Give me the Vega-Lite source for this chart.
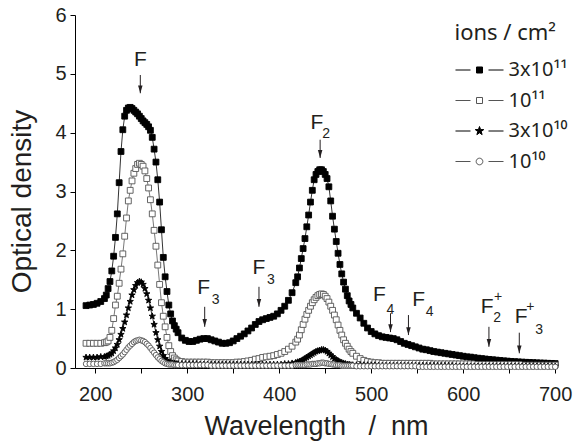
{
  "$schema": "https://vega.github.io/schema/vega-lite/v6.json",
  "width": 482,
  "height": 353,
  "autosize": {"type": "none"},
  "padding": {"left": 75, "top": 15, "right": 16, "bottom": 73},
  "config": {
    "view": {"stroke": null},
    "font": "Liberation Sans",
    "axis": {"grid": false, "domainColor": "#000", "tickColor": "#000", "labelColor": "#231f20", "titleColor": "#231f20", "labelFont": "Liberation Sans", "titleFont": "Liberation Sans", "titleFontWeight": "normal", "labelFontSize": 20, "titleFontSize": 27, "tickSize": 5, "domainWidth": 1, "tickWidth": 1}
  },
  "datasets": {
    "spec": [
      {"x":190,"a":1.06,"b":0.42,"c":0.18,"d":0.07},
      {"x":194,"a":1.07,"b":0.42,"c":0.18,"d":0.07},
      {"x":198,"a":1.08,"b":0.42,"c":0.18,"d":0.07},
      {"x":202,"a":1.10,"b":0.42,"c":0.18,"d":0.07},
      {"x":206,"a":1.13,"b":0.42,"c":0.19,"d":0.07},
      {"x":210,"a":1.18,"b":0.43,"c":0.19,"d":0.08},
      {"x":212,"a":1.24,"b":0.44,"c":0.20,"d":0.08},
      {"x":214,"a":1.35,"b":0.46,"c":0.21,"d":0.08},
      {"x":216,"a":1.47,"b":0.52,"c":0.23,"d":0.08},
      {"x":218,"a":1.65,"b":0.64,"c":0.25,"d":0.09},
      {"x":220,"a":1.90,"b":0.84,"c":0.29,"d":0.10},
      {"x":222,"a":2.22,"b":1.07,"c":0.34,"d":0.12},
      {"x":224,"a":2.62,"b":1.22,"c":0.40,"d":0.14},
      {"x":226,"a":3.15,"b":1.44,"c":0.48,"d":0.17},
      {"x":228,"a":3.68,"b":1.68,"c":0.57,"d":0.20},
      {"x":230,"a":4.05,"b":1.94,"c":0.67,"d":0.23},
      {"x":232,"a":4.28,"b":2.24,"c":0.78,"d":0.27},
      {"x":234,"a":4.38,"b":2.55,"c":0.90,"d":0.31},
      {"x":236,"a":4.42,"b":2.84,"c":1.02,"d":0.35},
      {"x":238,"a":4.43,"b":3.02,"c":1.13,"d":0.38},
      {"x":240,"a":4.41,"b":3.18,"c":1.24,"d":0.41},
      {"x":242,"a":4.38,"b":3.31,"c":1.33,"d":0.44},
      {"x":244,"a":4.35,"b":3.39,"c":1.40,"d":0.46},
      {"x":246,"a":4.32,"b":3.46,"c":1.45,"d":0.47},
      {"x":248,"a":4.28,"b":3.48,"c":1.47,"d":0.48},
      {"x":250,"a":4.24,"b":3.46,"c":1.46,"d":0.47},
      {"x":252,"a":4.20,"b":3.43,"c":1.42,"d":0.46},
      {"x":254,"a":4.17,"b":3.35,"c":1.35,"d":0.44},
      {"x":256,"a":4.14,"b":3.22,"c":1.26,"d":0.41},
      {"x":258,"a":4.10,"b":3.06,"c":1.15,"d":0.38},
      {"x":260,"a":4.04,"b":2.86,"c":1.02,"d":0.34},
      {"x":262,"a":3.92,"b":2.62,"c":0.88,"d":0.30},
      {"x":264,"a":3.72,"b":2.34,"c":0.74,"d":0.26},
      {"x":266,"a":3.50,"b":2.07,"c":0.60,"d":0.22},
      {"x":268,"a":3.20,"b":1.75,"c":0.48,"d":0.18},
      {"x":270,"a":2.82,"b":1.42,"c":0.37,"d":0.15},
      {"x":272,"a":2.35,"b":1.11,"c":0.28,"d":0.12},
      {"x":274,"a":1.88,"b":0.88,"c":0.21,"d":0.10},
      {"x":276,"a":1.55,"b":0.70,"c":0.16,"d":0.08},
      {"x":278,"a":1.30,"b":0.52,"c":0.12,"d":0.07},
      {"x":280,"a":1.07,"b":0.38,"c":0.10,"d":0.06},
      {"x":282,"a":0.92,"b":0.28,"c":0.09,"d":0.06},
      {"x":284,"a":0.80,"b":0.21,"c":0.08,"d":0.06},
      {"x":286,"a":0.72,"b":0.17,"c":0.08,"d":0.05},
      {"x":288,"a":0.66,"b":0.14,"c":0.07,"d":0.05},
      {"x":290,"a":0.60,"b":0.12,"c":0.07,"d":0.05},
      {"x":294,"a":0.51,"b":0.11,"c":0.07,"d":0.05},
      {"x":298,"a":0.47,"b":0.10,"c":0.07,"d":0.05},
      {"x":302,"a":0.45,"b":0.10,"c":0.07,"d":0.05},
      {"x":306,"a":0.45,"b":0.10,"c":0.07,"d":0.05},
      {"x":310,"a":0.47,"b":0.10,"c":0.07,"d":0.05},
      {"x":314,"a":0.49,"b":0.10,"c":0.06,"d":0.05},
      {"x":318,"a":0.50,"b":0.10,"c":0.06,"d":0.05},
      {"x":322,"a":0.50,"b":0.10,"c":0.06,"d":0.05},
      {"x":326,"a":0.48,"b":0.09,"c":0.06,"d":0.04},
      {"x":330,"a":0.46,"b":0.09,"c":0.06,"d":0.04},
      {"x":334,"a":0.44,"b":0.09,"c":0.06,"d":0.04},
      {"x":338,"a":0.42,"b":0.09,"c":0.06,"d":0.04},
      {"x":342,"a":0.42,"b":0.09,"c":0.06,"d":0.04},
      {"x":346,"a":0.43,"b":0.09,"c":0.06,"d":0.04},
      {"x":350,"a":0.46,"b":0.09,"c":0.06,"d":0.04},
      {"x":354,"a":0.50,"b":0.10,"c":0.06,"d":0.04},
      {"x":358,"a":0.54,"b":0.10,"c":0.06,"d":0.04},
      {"x":362,"a":0.58,"b":0.11,"c":0.06,"d":0.04},
      {"x":366,"a":0.63,"b":0.12,"c":0.06,"d":0.04},
      {"x":370,"a":0.68,"b":0.13,"c":0.06,"d":0.04},
      {"x":374,"a":0.74,"b":0.15,"c":0.06,"d":0.04},
      {"x":378,"a":0.79,"b":0.16,"c":0.06,"d":0.04},
      {"x":382,"a":0.82,"b":0.18,"c":0.06,"d":0.04},
      {"x":386,"a":0.84,"b":0.19,"c":0.06,"d":0.04},
      {"x":390,"a":0.86,"b":0.20,"c":0.06,"d":0.04},
      {"x":394,"a":0.88,"b":0.21,"c":0.06,"d":0.04},
      {"x":398,"a":0.92,"b":0.23,"c":0.06,"d":0.04},
      {"x":402,"a":0.98,"b":0.25,"c":0.06,"d":0.04},
      {"x":406,"a":1.05,"b":0.28,"c":0.07,"d":0.04},
      {"x":410,"a":1.15,"b":0.32,"c":0.07,"d":0.04},
      {"x":414,"a":1.28,"b":0.37,"c":0.08,"d":0.04},
      {"x":418,"a":1.45,"b":0.44,"c":0.09,"d":0.05},
      {"x":420,"a":1.55,"b":0.49,"c":0.10,"d":0.05},
      {"x":422,"a":1.70,"b":0.56,"c":0.11,"d":0.05},
      {"x":424,"a":1.86,"b":0.65,"c":0.12,"d":0.05},
      {"x":426,"a":2.03,"b":0.74,"c":0.14,"d":0.05},
      {"x":428,"a":2.20,"b":0.83,"c":0.16,"d":0.05},
      {"x":430,"a":2.40,"b":0.91,"c":0.18,"d":0.06},
      {"x":432,"a":2.60,"b":0.98,"c":0.20,"d":0.06},
      {"x":434,"a":2.82,"b":1.05,"c":0.22,"d":0.06},
      {"x":436,"a":3.02,"b":1.11,"c":0.24,"d":0.07},
      {"x":438,"a":3.20,"b":1.16,"c":0.26,"d":0.07},
      {"x":440,"a":3.29,"b":1.20,"c":0.28,"d":0.07},
      {"x":442,"a":3.34,"b":1.23,"c":0.29,"d":0.08},
      {"x":444,"a":3.37,"b":1.25,"c":0.30,"d":0.08},
      {"x":446,"a":3.37,"b":1.26,"c":0.31,"d":0.09},
      {"x":448,"a":3.34,"b":1.25,"c":0.31,"d":0.09},
      {"x":450,"a":3.29,"b":1.22,"c":0.30,"d":0.08},
      {"x":452,"a":3.22,"b":1.18,"c":0.28,"d":0.08},
      {"x":454,"a":3.08,"b":1.12,"c":0.25,"d":0.07},
      {"x":456,"a":2.84,"b":1.05,"c":0.22,"d":0.07},
      {"x":458,"a":2.58,"b":0.98,"c":0.19,"d":0.06},
      {"x":460,"a":2.36,"b":0.90,"c":0.16,"d":0.06},
      {"x":462,"a":2.15,"b":0.82,"c":0.14,"d":0.05},
      {"x":464,"a":1.95,"b":0.73,"c":0.12,"d":0.05},
      {"x":466,"a":1.76,"b":0.64,"c":0.10,"d":0.05},
      {"x":468,"a":1.60,"b":0.56,"c":0.09,"d":0.04},
      {"x":470,"a":1.46,"b":0.48,"c":0.08,"d":0.04},
      {"x":472,"a":1.34,"b":0.42,"c":0.07,"d":0.04},
      {"x":474,"a":1.23,"b":0.37,"c":0.06,"d":0.04},
      {"x":476,"a":1.14,"b":0.32,"c":0.06,"d":0.04},
      {"x":478,"a":1.08,"b":0.28,"c":0.05,"d":0.04},
      {"x":480,"a":1.02,"b":0.25,"c":0.05,"d":0.04},
      {"x":484,"a":0.93,"b":0.20,"c":0.05,"d":0.03},
      {"x":488,"a":0.85,"b":0.16,"c":0.05,"d":0.03},
      {"x":492,"a":0.76,"b":0.13,"c":0.05,"d":0.03},
      {"x":496,"a":0.68,"b":0.11,"c":0.05,"d":0.03},
      {"x":500,"a":0.62,"b":0.10,"c":0.05,"d":0.03},
      {"x":504,"a":0.58,"b":0.09,"c":0.05,"d":0.03},
      {"x":508,"a":0.55,"b":0.09,"c":0.04,"d":0.03},
      {"x":512,"a":0.53,"b":0.08,"c":0.04,"d":0.03},
      {"x":516,"a":0.52,"b":0.08,"c":0.04,"d":0.03},
      {"x":520,"a":0.51,"b":0.08,"c":0.04,"d":0.03},
      {"x":524,"a":0.50,"b":0.08,"c":0.04,"d":0.03},
      {"x":528,"a":0.48,"b":0.08,"c":0.04,"d":0.03},
      {"x":532,"a":0.45,"b":0.08,"c":0.04,"d":0.03},
      {"x":536,"a":0.42,"b":0.08,"c":0.04,"d":0.03},
      {"x":540,"a":0.40,"b":0.08,"c":0.04,"d":0.03},
      {"x":544,"a":0.38,"b":0.08,"c":0.04,"d":0.03},
      {"x":548,"a":0.36,"b":0.08,"c":0.04,"d":0.03},
      {"x":552,"a":0.34,"b":0.08,"c":0.04,"d":0.02},
      {"x":556,"a":0.32,"b":0.08,"c":0.04,"d":0.02},
      {"x":560,"a":0.31,"b":0.08,"c":0.04,"d":0.02},
      {"x":564,"a":0.295,"b":0.08,"c":0.04,"d":0.02},
      {"x":568,"a":0.28,"b":0.07,"c":0.04,"d":0.02},
      {"x":572,"a":0.27,"b":0.07,"c":0.04,"d":0.02},
      {"x":576,"a":0.26,"b":0.07,"c":0.04,"d":0.02},
      {"x":580,"a":0.25,"b":0.07,"c":0.04,"d":0.02},
      {"x":584,"a":0.24,"b":0.07,"c":0.04,"d":0.02},
      {"x":588,"a":0.23,"b":0.07,"c":0.04,"d":0.02},
      {"x":592,"a":0.22,"b":0.07,"c":0.03,"d":0.02},
      {"x":596,"a":0.21,"b":0.07,"c":0.03,"d":0.02},
      {"x":600,"a":0.20,"b":0.07,"c":0.03,"d":0.02},
      {"x":604,"a":0.19,"b":0.07,"c":0.03,"d":0.02},
      {"x":608,"a":0.185,"b":0.07,"c":0.03,"d":0.02},
      {"x":612,"a":0.175,"b":0.07,"c":0.03,"d":0.02},
      {"x":616,"a":0.167,"b":0.06,"c":0.03,"d":0.02},
      {"x":620,"a":0.16,"b":0.06,"c":0.03,"d":0.02},
      {"x":624,"a":0.153,"b":0.06,"c":0.03,"d":0.02},
      {"x":628,"a":0.146,"b":0.06,"c":0.03,"d":0.02},
      {"x":632,"a":0.14,"b":0.06,"c":0.03,"d":0.02},
      {"x":636,"a":0.134,"b":0.06,"c":0.03,"d":0.02},
      {"x":640,"a":0.128,"b":0.06,"c":0.03,"d":0.02},
      {"x":644,"a":0.122,"b":0.06,"c":0.03,"d":0.02},
      {"x":648,"a":0.117,"b":0.06,"c":0.03,"d":0.02},
      {"x":652,"a":0.112,"b":0.06,"c":0.03,"d":0.02},
      {"x":656,"a":0.108,"b":0.06,"c":0.03,"d":0.02},
      {"x":660,"a":0.104,"b":0.06,"c":0.03,"d":0.02},
      {"x":664,"a":0.10,"b":0.06,"c":0.03,"d":0.02},
      {"x":668,"a":0.097,"b":0.05,"c":0.03,"d":0.02},
      {"x":672,"a":0.094,"b":0.05,"c":0.03,"d":0.02},
      {"x":676,"a":0.091,"b":0.05,"c":0.03,"d":0.02},
      {"x":680,"a":0.088,"b":0.05,"c":0.03,"d":0.02},
      {"x":684,"a":0.085,"b":0.05,"c":0.03,"d":0.02},
      {"x":688,"a":0.083,"b":0.05,"c":0.03,"d":0.02},
      {"x":692,"a":0.08,"b":0.05,"c":0.03,"d":0.02},
      {"x":696,"a":0.078,"b":0.05,"c":0.03,"d":0.02},
      {"x":700,"a":0.076,"b":0.05,"c":0.03,"d":0.02}
    ],
    "series": [{"s":"a"},{"s":"b"},{"s":"c"},{"s":"d"}],
    "arr": [
      {"x":249,"y1":4.98,"y2":4.67},
      {"x":444.5,"y1":3.88,"y2":3.57},
      {"x":319,"y1":1.04,"y2":0.70},
      {"x":378,"y1":1.38,"y2":1.04},
      {"x":521,"y1":0.93,"y2":0.61},
      {"x":540.5,"y1":0.90,"y2":0.56},
      {"x":628,"y1":0.70,"y2":0.36},
      {"x":661,"y1":0.60,"y2":0.25}
    ],
    "lab": [
      {"x":249,"y":5.24,"t":"F","k":"big"},
      {"x":441,"y":4.17,"t":"F","k":"big"},
      {"x":451,"y":3.97,"t":"2","k":"small"},
      {"x":318,"y":1.36,"t":"F","k":"big"},
      {"x":331,"y":1.16,"t":"3","k":"small"},
      {"x":378,"y":1.7,"t":"F","k":"big"},
      {"x":391,"y":1.5,"t":"3","k":"small"},
      {"x":509,"y":1.24,"t":"F","k":"big"},
      {"x":521,"y":0.99,"t":"4","k":"small"},
      {"x":551.5,"y":1.16,"t":"F","k":"big"},
      {"x":563.5,"y":0.95,"t":"4","k":"small"},
      {"x":626,"y":1.04,"t":"F","k":"big"},
      {"x":638,"y":1.21,"t":"+","k":"small"},
      {"x":637,"y":0.85,"t":"2","k":"small"},
      {"x":663,"y":0.87,"t":"F","k":"big"},
      {"x":673,"y":1.04,"t":"+","k":"small"},
      {"x":682.5,"y":0.65,"t":"3","k":"small"}
    ]
  },
  "layer": [
    {
      "data": {"name": "spec"},
      "transform": [{"fold": ["a","b","c","d"], "as": ["s","v"]}],
      "mark": {"type": "line", "strokeWidth": 0.8},
      "encoding": {
        "x": {"field": "x", "type": "quantitative", "scale": {"domain": [178, 702], "nice": false, "zero": false},
          "axis": {"values": [200,250,300,350,400,450,500,550,600,650,700], "labelExpr": "datum.value % 100 === 0 ? format(datum.value, 'd') : ''", "title": "Wavelength\u00a0\u00a0\u00a0/\u00a0\u00a0nm", "labelPadding": 11, "titlePadding": 9, "labelFlush": false}},
        "y": {"field": "v", "type": "quantitative", "scale": {"domain": [0, 6], "nice": false},
          "axis": {"values": [0,0.5,1,1.5,2,2.5,3,3.5,4,4.5,5,5.5,6], "labelExpr": "datum.value % 1 === 0 ? format(datum.value, 'd') : ''", "title": "Optical density", "titleFontSize": 28, "labelPadding": 4, "titlePadding": 18, "titleY": 186}},
        "stroke": {"field": "s", "type": "nominal", "scale": {"domain": ["a","b","c","d"], "range": ["#000000","#555555","#000000","#555555"]}},
        "detail": {"field": "s"}
      }
    },
    {
      "data": {"name": "spec"},
      "transform": [{"fold": ["a","b","c","d"], "as": ["s","v"]}, {"filter": {"field": "s", "oneOf": ["a","b"]}}],
      "mark": {"type": "point", "filled": true, "opacity": 1, "strokeWidth": 0.9, "size": 34, "shape": "square"},
      "encoding": {
        "x": {"field": "x", "type": "quantitative"},
        "y": {"field": "v", "type": "quantitative"},
        "stroke": {"field": "s", "type": "nominal"},
        "fill": {"field": "s", "type": "nominal", "scale": {"domain": ["a","b","c","d"], "range": ["#000000","#ffffff","#000000","#ffffff"]}}
      }
    },
    {
      "data": {"name": "spec"},
      "transform": [{"fold": ["a","b","c","d"], "as": ["s","v"]}, {"filter": {"field": "s", "equal": "c"}}],
      "mark": {"type": "point", "filled": true, "opacity": 1, "strokeWidth": 0.9, "size": 34, "shape": "M0,-1.15L0.27,-0.373L1.094,-0.355L0.437,0.143L0.676,0.93L0,0.46L-0.676,0.93L-0.437,0.143L-1.094,-0.355L-0.27,-0.373Z"},
      "encoding": {
        "x": {"field": "x", "type": "quantitative"},
        "y": {"field": "v", "type": "quantitative"},
        "stroke": {"field": "s", "type": "nominal"},
        "fill": {"field": "s", "type": "nominal"}
      }
    },
    {
      "data": {"name": "spec"},
      "transform": [{"fold": ["a","b","c","d"], "as": ["s","v"]}, {"filter": {"field": "s", "equal": "d"}}],
      "mark": {"type": "point", "filled": true, "opacity": 1, "strokeWidth": 0.9, "size": 30, "shape": "circle"},
      "encoding": {
        "x": {"field": "x", "type": "quantitative"},
        "y": {"field": "v", "type": "quantitative"},
        "stroke": {"field": "s", "type": "nominal"},
        "fill": {"field": "s", "type": "nominal"}
      }
    },
    {
      "data": {"name": "series"},
      "mark": {"type": "point", "filled": true, "opacity": 0},
      "encoding": {
        "stroke": {"field": "s", "type": "nominal"},
        "shape": {"field": "s", "type": "nominal", "scale": {"domain": ["a","b","c","d"], "range": [
          "M-0.966,0H0.07M1.31,0H2.345M0.483,-0.207H0.897V0.207H0.483Z",
          "M-0.966,0H0.07M1.31,0H2.345M0.483,-0.207H0.897V0.207H0.483Z",
          "M-0.966,0H0.07M1.31,0H2.345M0.69,-0.31L0.763,-0.1L0.985,-0.096L0.808,0.038L0.872,0.251L0.69,0.124L0.508,0.251L0.572,0.038L0.395,-0.096L0.617,-0.1Z",
          "M-0.966,0H0.07M1.31,0H2.345M0.92,0A0.23,0.23 0 1,1 0.46,0A0.23,0.23 0 1,1 0.92,0Z"]}},
        "fill": {"field": "s", "type": "nominal",
          "legend": {
            "title": "ions / cm²",
            "orient": "none", "legendX": 379.5, "legendY": 8, "padding": 0,
            "titleFontSize": 22, "titleFontWeight": "normal", "titleColor": "#231f20", "titleFont": "Noto Sans", "titlePadding": 10,
            "labelFontSize": 20, "labelColor": "#231f20", "labelFont": "Noto Sans", "labelOffset": 24,
            "symbolSize": 841, "symbolStrokeWidth": 1, "symbolOpacity": 1, "rowPadding": 5.5,
            "labelExpr": "datum.value === 'a' ? '3x10¹¹' : datum.value === 'b' ? '10¹¹' : datum.value === 'c' ? '3x10¹⁰' : '10¹⁰'"
          }
        }
      }
    },
    {
      "data": {"name": "arr"},
      "mark": {"type": "rule", "color": "#231f20", "strokeWidth": 1},
      "encoding": {
        "x": {"field": "x", "type": "quantitative"},
        "y": {"field": "y1", "type": "quantitative"},
        "y2": {"field": "y2"}
      }
    },
    {
      "data": {"name": "arr"},
      "mark": {"type": "point", "filled": true, "opacity": 1, "color": "#231f20", "size": 56, "shape": "M-0.6,-2.1L0.6,-2.1L0,0Z"},
      "encoding": {
        "x": {"field": "x", "type": "quantitative"},
        "y": {"field": "y2", "type": "quantitative"}
      }
    },
    {
      "data": {"name": "lab"},
      "transform": [{"filter": "datum.k === 'big'"}],
      "mark": {"type": "text", "fontSize": 21, "font": "Liberation Sans", "color": "#231f20", "align": "center", "baseline": "middle"},
      "encoding": {
        "x": {"field": "x", "type": "quantitative"},
        "y": {"field": "y", "type": "quantitative"},
        "text": {"field": "t"}
      }
    },
    {
      "data": {"name": "lab"},
      "transform": [{"filter": "datum.k === 'small'"}],
      "mark": {"type": "text", "fontSize": 14, "font": "Liberation Sans", "color": "#231f20", "align": "center", "baseline": "middle"},
      "encoding": {
        "x": {"field": "x", "type": "quantitative"},
        "y": {"field": "y", "type": "quantitative"},
        "text": {"field": "t"}
      }
    }
  ]
}
